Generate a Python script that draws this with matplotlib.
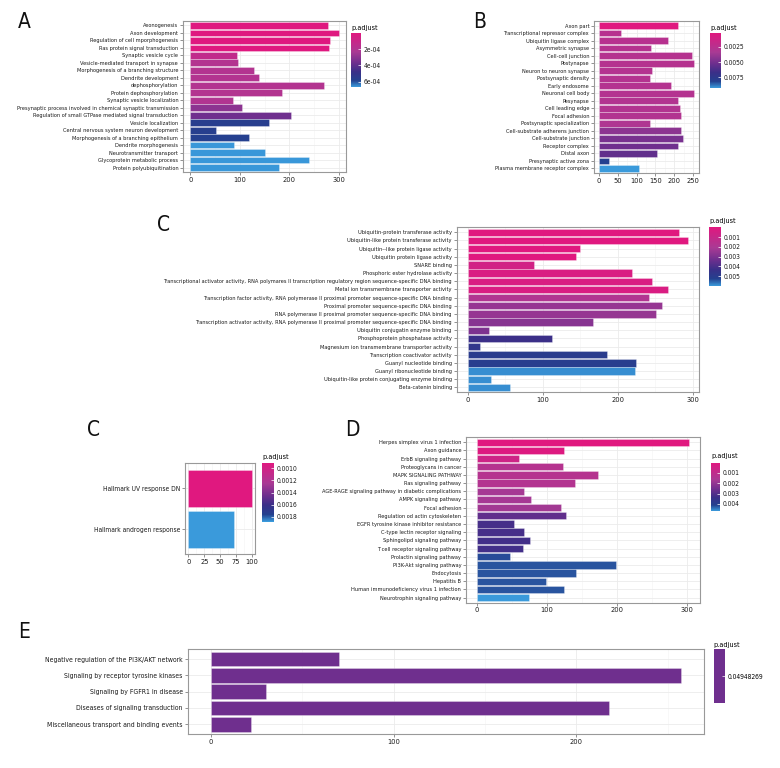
import numpy as np
import matplotlib
matplotlib.use('Agg')
import matplotlib.pyplot as plt
from matplotlib import font_manager
from matplotlib.cm import ScalarMappable
from matplotlib.colors import LinearSegmentedColormap, Normalize

# ---- data ----
a_terms = ["Axonogenesis", "Axon development", "Regulation of cell mporphogenesis",
           "Ras protein signal transduction", "Synaptic vesicle cycle",
           "Vesicle-mediated transport in synapse", "Morphogenesis of a branching structure",
           "Dendrite development", "dephosphorylation", "Protein dephosphorylation",
           "Synaptic vesicle localization",
           "Presynaptic process involved in chemical synaptic transmission",
           "Regulation of small GTPase mediated signal transduction", "Vesicle localization",
           "Central nervous system neuron development", "Morphogenesis of a branching epithelium",
           "Dendrite morphogenesis", "Neurotransmitter transport",
           "Glycoprotein metabolic process", "Protein polyubiquitination"]
a_counts = [278, 300, 283, 280, 95, 96, 129, 139, 271, 186, 87, 104, 204, 160, 52, 118, 89, 152, 241, 180]
a_padj = [5e-6, 5e-6, 5e-6, 5e-6, 1.3e-4, 1.9e-4, 1.9e-4, 1.9e-4, 1.9e-4, 1.9e-4, 2.0e-4,
          3.0e-4, 3.65e-4, 5.65e-4, 5.7e-4, 5.8e-4, 6.6e-4, 6.6e-4, 6.6e-4, 6.6e-4]

b_terms = ["Axon part", "Transcriptional repressor complex", "Ubiquitin ligase complex",
           "Asymmetric synapse", "Cell-cell junction", "Postynapse", "Neuron to neuron synapse",
           "Postsynaptic density", "Early endosome", "Neuronal cell body", "Pesynapse",
           "Cell leading edge", "Focal adhesion", "Postsynaptic specialization",
           "Cell-substrate adherens junction", "Cell-substrate junction", "Receptor complex",
           "Distal axon", "Presynaptic active zona", "Plasma membrane receptor complex"]
b_counts = [209, 58, 183, 139, 248, 253, 141, 136, 192, 252, 211, 214, 218, 136, 218, 224, 210, 155, 26, 107]
b_padj = [0.0003, 0.0026, 0.0026, 0.0027, 0.0027, 0.0027, 0.0028, 0.0028, 0.0028, 0.0028,
          0.0029, 0.0029, 0.0029, 0.0031, 0.0043, 0.0049, 0.0052, 0.0056, 0.0081, 0.0092]

c_terms = ["Ubiquitin-protein transferase activity", "Ubiquitin-like protein transferase activity",
           "Ubiquitin--like protein ligase activity", "Ubiquitin protein ligase activity",
           "SNARE binding", "Phosphoric ester hydrolase activity",
           "Transcriptional activator activity, RNA polymares II transcription regulatory region sequence-specific DNA binding",
           "Metal ion transmembrane transporter activity",
           "Transcription factor activity, RNA polymerase II proximal promoter sequence-specific DNA binding",
           "Proximal promoter sequence-specific DNA binding",
           "RNA polymerase II proximal promoter sequence-specific DNA binding",
           "Transcription activator activity, RNA polymerase II proximal promoter sequence-specific DNA binding",
           "Ubiquitin conjugatin enzyme binding", "Phosphoprotein phosphatase activity",
           "Magnesium ion transmembrane transporter activity", "Transcription coactivator activity",
           "Guanyl nucleotide binding", "Guanyl ribonucleotide binding",
           "Ubiquitin-like protein conjugating enzyme binding", "Beta-catenin binding"]
c_counts = [281, 294, 149, 145, 88, 219, 246, 267, 241, 259, 251, 167, 28, 112, 16, 185, 224, 223, 31, 56]
c_padj = [2e-5, 2e-5, 2e-5, 2e-5, 6e-4, 3e-4, 3e-4, 3e-4, 1.8e-3, 2.5e-3, 2.5e-3, 2.8e-3,
          3.0e-3, 4.3e-3, 4.7e-3, 5.0e-3, 5.1e-3, 5.9e-3, 5.9e-3, 5.9e-3]

h_terms = ["Hallmark UV response DN", "Hallmark androgen response"]
h_counts = [100, 72]
h_padj = [0.00091, 0.00188]

d_terms = ["Herpes simplex virus 1 infection", "Axon guidance", "ErbB signaling pathway",
           "Proteoglycans in cancer", "MAPK SIGNALING PATHWAY", "Ras signaling pathway",
           "AGE-RAGE signaling pathway in diabetic complications", "AMPK signaling pathway",
           "Focal adhesion", "Regulation od actin cytoskeleten",
           "EGFR tyrosine kinase inhibitor resistance", "C-type lectin receptor signaling",
           "Sphingolipd signaling pathway", "T cell receptor signaling pathway",
           "Prolactin signaling pathway", "PI3K-Akt signaling pathway", "Endocytosis",
           "Hepatitis B", "Human immunodeficiency virus 1 infection", "Neurotrophin signaling pathway"]
d_counts = [304, 125, 61, 124, 174, 140, 67, 78, 121, 128, 54, 68, 76, 66, 48, 199, 142, 99, 125, 75]
d_padj = [1e-5, 1e-4, 5.7e-4, 1.3e-3, 1.3e-3, 1.35e-3, 1.7e-3, 1.7e-3, 1.75e-3, 2.8e-3,
          3.2e-3, 3.2e-3, 3.25e-3, 3.25e-3, 4.2e-3, 4.25e-3, 4.25e-3, 4.25e-3, 4.25e-3, 4.7e-3]

e_terms = ["Negative regulation of the PI3K/AKT network", "Signaling by receptor tyrosine kinases",
           "Signaling by FGFR1 in disease", "Diseases of signaling transduction",
           "Miscellaneous transport and binding events"]
e_counts = [70, 257, 30, 218, 22]
e_padj = 0.04948269

# ---- style ----
names = {f.name for f in font_manager.fontManager.ttflist}
narrow = 'Liberation Sans Narrow' in names
plt.rcParams['font.family'] = 'Liberation Sans Narrow' if narrow else 'DejaVu Sans'
plt.rcParams['font.stretch'] = 'condensed'
K = 1.0 if narrow else 0.8

cmap = LinearSegmentedColormap.from_list('padj', [
    (0.0, '#E0187F'), (0.35, '#A93A94'), (0.55, '#6F2F8E'),
    (0.72, '#3A2F88'), (0.88, '#24418F'), (1.0, '#3A9ADB')])

W, H = 780, 768
fig = plt.figure(figsize=(W / 100, H / 100), dpi=100)


def px_axes(l, t, r, b):
    return fig.add_axes([l / W, 1 - b / H, (r - l) / W, (b - t) / H])


def bar_panel(box, terms, counts, colors, xticks, label_size):
    ax = px_axes(*box)
    y = np.arange(len(terms), 0, -1)
    ax.barh(y, counts, height=0.9, color=colors, edgecolor=(1, 1, 1, 0.5),
            linewidth=0.4, zorder=3)
    xmax = max(counts)
    ax.set_xlim(-0.05 * xmax, 1.05 * xmax)
    ax.set_ylim(0.4, len(terms) + 0.6)
    ax.set_yticks(y)
    ax.set_yticklabels(terms, fontsize=label_size * K, color='#1a1a1a')
    ax.set_xticks(xticks)
    ax.set_xticklabels([str(t) for t in xticks], fontsize=6.6 * K, color='#1a1a1a')
    step = xticks[1] - xticks[0]
    ax.set_xticks(np.arange(xticks[0] + step / 2, 1.05 * xmax, step), minor=True)
    ax.grid(True, which='major', color='#EBEBEB', linewidth=0.6, zorder=0)
    ax.grid(True, which='minor', axis='x', color='#F4F4F4', linewidth=0.4, zorder=0)
    ax.tick_params(which='major', length=2, width=0.5, color='#666666', pad=1.5)
    ax.tick_params(which='minor', length=0)
    for s in ax.spines.values():
        s.set_color('#999999')
        s.set_linewidth(0.8)
    return ax


def colorbar(box, vmin, vmax, ticks, labels, title_y):
    cax = px_axes(*box)
    cb = fig.colorbar(ScalarMappable(Normalize(vmin, vmax), cmap), cax=cax)
    cb.outline.set_visible(False)
    cax.invert_yaxis()
    cb.set_ticks(ticks, labels=labels)
    cax.tick_params(length=2, width=0.5, color='white', direction='in',
                    labelsize=6 * K, pad=2, labelcolor='#1a1a1a')
    fig.text(box[0] / W, 1 - title_y / H, 'p.adjust', fontsize=6.5 * K, va='bottom', ha='left')


def letter(cx, cy, s):
    fig.text(cx / W, 1 - cy / H, s, fontsize=15, ha='center', va='center', color='#111111')


def colors_for(padj, vmin, vmax):
    return cmap(Normalize(vmin, vmax)(np.array(padj)))


# A
letter(24.5, 22.5, 'A')
bar_panel((183, 21, 346, 172), a_terms, a_counts, colors_for(a_padj, 0, 6.65e-4),
          [0, 100, 200, 300], 5.05)
colorbar((351, 33, 361, 87), 0, 6.65e-4, [2e-4, 4e-4, 6e-4], ['2e-04', '4e-04', '6e-04'], 31)

# B
letter(480, 22.5, 'B')
bar_panel((594, 21, 699, 173), b_terms, b_counts, colors_for(b_padj, 0.0003, 0.0092),
          [0, 50, 100, 150, 200, 250], 5.1)
colorbar((710, 33, 721, 88), 0.0003, 0.0092, [0.0025, 0.005, 0.0075],
         ['0.0025', '0.0050', '0.0075'], 31)

# C (molecular function)
letter(163.5, 225, 'C')
bar_panel((456.7, 227.3, 699.3, 392.3), c_terms, c_counts, colors_for(c_padj, 0, 0.006),
          [0, 100, 200, 300], 5.05)
colorbar((709, 227.3, 720.7, 286), 0, 0.006, [0.001, 0.002, 0.003, 0.004, 0.005],
         ['0.001', '0.002', '0.003', '0.004', '0.005'], 224)

# C (hallmark)
letter(93.5, 430, 'C')
bar_panel((185.3, 463.3, 255, 554.3), h_terms, h_counts, colors_for(h_padj, 0.00091, 0.00188),
          [0, 25, 50, 75, 100], 6.0)
colorbar((262, 462.7, 274, 521.7), 0.00091, 0.00188,
         [0.0010, 0.0012, 0.0014, 0.0016, 0.0018],
         ['0.0010', '0.0012', '0.0014', '0.0016', '0.0018'], 460)

# D
letter(352, 430, 'D')
bar_panel((466, 437.3, 700, 602.5), d_terms, d_counts, colors_for(d_padj, 0, 0.0047),
          [0, 100, 200, 300], 5.05)
colorbar((711, 462.7, 719.5, 511), 0, 0.0047, [0.001, 0.002, 0.003, 0.004],
         ['0.001', '0.002', '0.003', '0.004'], 459)

# E
letter(24, 631.7, 'E')
e_color = cmap(0.55)
bar_panel((187.5, 649.3, 704, 734), e_terms, e_counts, [e_color] * len(e_terms),
          [0, 100, 200], 6.2)
cax = px_axes(714, 649.3, 725, 703.3)
cax.set_facecolor(e_color)
cax.set_xticks([])
cax.set_ylim(0, 1)
cax.yaxis.tick_right()
cax.set_yticks([0.5], labels=['0.04948269'])
cax.tick_params(length=2, width=0.5, color='white', direction='in', labelsize=6 * K, pad=2)
for s in cax.spines.values():
    s.set_visible(False)
fig.text(713 / W, 1 - 647.5 / H, 'p.adjust', fontsize=6.5 * K, va='bottom', ha='left')

fig.savefig('out.png', dpi=100)
